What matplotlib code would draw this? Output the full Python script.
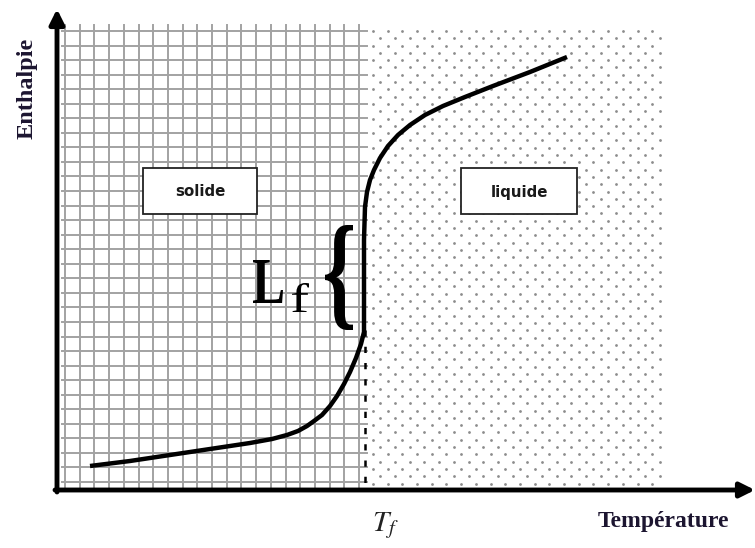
import numpy as np
import matplotlib
matplotlib.use("Agg")
import matplotlib.pyplot as plt
from matplotlib.textpath import TextPath
from matplotlib.patches import PathPatch, Rectangle
from matplotlib.font_manager import FontProperties
from matplotlib.transforms import Affine2D

# enthalpy curve (drawing units: x right, y down)
curve_x = [90, 130, 170, 210, 250, 272, 287, 298, 307, 314, 322, 330, 337, 344,
           350, 356, 361, 364, 364, 364, 365, 367, 370, 374, 380, 388, 398, 410,
           425, 443, 465, 493, 530, 567]
curve_y = [466, 461, 455, 449, 443, 439, 435, 431, 426, 421, 415, 406, 396, 384,
           372, 358, 344, 332, 290, 240, 207, 192, 180, 170, 158, 146, 135, 125,
           115, 106, 97, 86, 72, 57]

melting_x = 365
phase_labels = ["solide", "liquide"]
x_label = "Température"
y_label = "Enthalpie"
melt_label = r"$T_f$"

plt.rcParams["mathtext.fontset"] = "stix"

fig = plt.figure(figsize=(7.55, 5.48), dpi=100)
ax = fig.add_axes([0, 0, 1, 1])
ax.set_xlim(0, 755)
ax.set_ylim(548, 0)
ax.axis("off")

# solid region: square grid
grid_col = "#a2a2a2"
for gx in np.arange(65, 367, 14.7):
    ax.plot([gx, gx], [25, 488], color=grid_col, lw=1.4, zorder=1)
for gy in np.arange(31, 488, 14.55):
    ax.plot([62, 367], [gy, gy], color=grid_col, lw=1.4, zorder=1)

# liquid region: staggered dots
dx, dy = [], []
for i, ry in enumerate(np.arange(31, 487, 7.3)):
    for rx in np.arange(373 + (i % 2) * 7.35, 662, 14.7):
        dx.append(rx)
        dy.append(ry)
ax.scatter(dx, dy, s=4, color="#8c8c8c", lw=0, zorder=1)

# dashed line at melting temperature
ax.plot([melting_x, melting_x], [330, 488], color="k", lw=1.8,
        dashes=(2.5, 4), zorder=2)

# phase boxes
for (x0, y0, x1, y1), lab in zip([(143, 168, 257, 214), (461, 168, 577, 214)], phase_labels):
    ax.add_patch(Rectangle((x0, y0), x1 - x0, y1 - y0, facecolor="white",
                           edgecolor="#222222", lw=1.3, zorder=3))
    ax.text((x0 + x1) / 2, (y0 + y1) / 2 + 1, lab, ha="center", va="center",
            fontsize=10.8, fontweight="bold", family="DejaVu Sans",
            color="#1a1a1a", zorder=4)

# curve
ax.plot(curve_x, curve_y, color="k", lw=3.2, solid_capstyle="butt", zorder=4)

# axes with arrows
ax.annotate("", xy=(57, 9), xytext=(57, 492),
            arrowprops=dict(arrowstyle="-|>", lw=3.5, color="k",
                            mutation_scale=22, shrinkA=0, shrinkB=0), zorder=5)
ax.annotate("", xy=(755, 490), xytext=(55, 490),
            arrowprops=dict(arrowstyle="-|>", lw=3.5, color="k",
                            mutation_scale=22, shrinkA=0, shrinkB=0), zorder=5)

serif_b = dict(family="Liberation Serif", fontweight="bold", color="#1c1530")
ax.text(27, 88, y_label, rotation=90, ha="center", va="center", fontsize=17.5, **serif_b)
ax.text(663, 522, x_label, ha="center", va="center", fontsize=17, **serif_b)
ax.text(385, 526, melt_label, ha="center", va="center", fontsize=21, color="#222222")


def fitted_text(s, box, prop, **kw):
    x0, y0, x1, y1 = box
    tp = TextPath((0, 0), s, size=100, prop=prop)
    ext = tp.get_extents()
    tr = (Affine2D().translate(-ext.x0, -ext.y1)
          .scale((x1 - x0) / ext.width, -(y1 - y0) / ext.height)
          .translate(x0, y0))
    ax.add_patch(PathPatch(tr.transform_path(tp), lw=0, **kw))


fitted_text("L", (253, 260, 283, 303),
            FontProperties(family="Liberation Serif", weight="bold"), color="k", zorder=5)
fitted_text("f", (292, 283, 309, 312),
            FontProperties(family="Liberation Serif"), color="k", zorder=5)
fitted_text("{", (325, 225, 353, 330),
            FontProperties(family="Liberation Serif", weight="bold"), color="k", zorder=5)

fig.savefig("out.png", dpi=100, facecolor="white")
